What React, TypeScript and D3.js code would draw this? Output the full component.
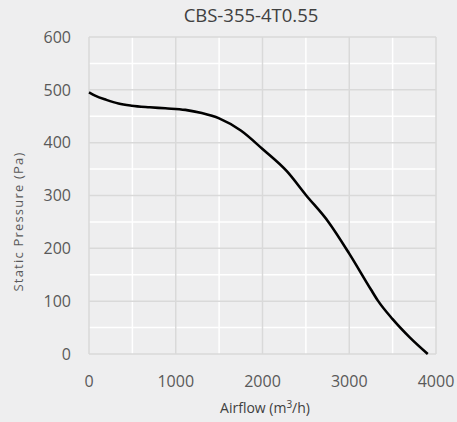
import React from "react";
import * as d3 from "d3";

const title = "CBS-355-4T0.55";
const airflow = [0, 70, 200, 340, 490, 700, 880, 1110, 1300, 1500, 1750, 2000, 2280, 2500, 2760, 3000, 3250, 3330, 3500, 3700, 3905];
const pressure = [495, 489, 481, 474, 470, 467, 465, 462, 456, 446, 423, 388, 346, 301, 250, 190, 122, 101, 66, 31, 0];
const xTicks = [0, 1000, 2000, 3000, 4000];
const yTicks = [0, 100, 200, 300, 400, 500, 600];
const xMinor = [500, 1500, 2500, 3500];
const yMinor = [50, 150, 250, 350, 450, 550];

const W = 457, H = 422;
const left = 89, right = 436, top = 37, bottom = 354;
const font = "'Open Sans', sans-serif";

export default function App() {
  const x = d3.scaleLinear().domain([0, 4000]).range([left, right]);
  const y = d3.scaleLinear().domain([0, 600]).range([bottom, top]);
  const pts = airflow.map((a, i) => [a, pressure[i]] as [number, number]);
  const line = d3.line<[number, number]>().x(d => x(d[0])).y(d => y(d[1])).curve(d3.curveMonotoneX);
  return (
    <svg width={W} height={H} style={{ position: "absolute", left: 0, top: 0, background: "#eeeeef" }}>
      <rect x={0} y={0} width={W} height={H} fill="#eeeeef" />
      {xMinor.map(v => <line key={"xm" + v} x1={x(v)} x2={x(v)} y1={top} y2={bottom} stroke="#ffffff" strokeWidth={1.5} />)}
      {yMinor.map(v => <line key={"ym" + v} x1={left} x2={right} y1={y(v)} y2={y(v)} stroke="#ffffff" strokeWidth={1.5} />)}
      {xTicks.map(v => <line key={"xg" + v} x1={x(v)} x2={x(v)} y1={top} y2={bottom} stroke="#d9d9d9" strokeWidth={1.5} />)}
      {yTicks.map(v => <line key={"yg" + v} x1={left} x2={right} y1={y(v)} y2={y(v)} stroke="#d9d9d9" strokeWidth={1.5} />)}
      <path d={line(pts) || ""} fill="none" stroke="#000" strokeWidth={2.6} strokeLinejoin="round" />
      {yTicks.map(v => (
        <text key={"yt" + v} x={71} y={y(v)} dy="0.36em" textAnchor="end" fontFamily={font} fontSize={16} fill="#595959">{v}</text>
      ))}
      {xTicks.map(v => (
        <text key={"xt" + v} x={x(v)} y={387} textAnchor="middle" fontFamily={font} fontSize={16} fill="#595959">{v}</text>
      ))}
      <text x={251} y={22} textAnchor="middle" fontFamily={font} fontSize={18.5} fill="#404040">{title}</text>
      <text x={265} y={413} textAnchor="middle" fontFamily={font} fontSize={14} fill="#404040">
        Airflow (m<tspan dy={-5} fontSize={10}>3</tspan><tspan dy={5}>/h)</tspan>
      </text>
      <text transform={`translate(23,${(top + bottom) / 2 + 26}) rotate(-90)`} textAnchor="middle" fontFamily={font} fontSize={13} letterSpacing={1.2} fill="#595959">Static Pressure (Pa)</text>
    </svg>
  );
}
